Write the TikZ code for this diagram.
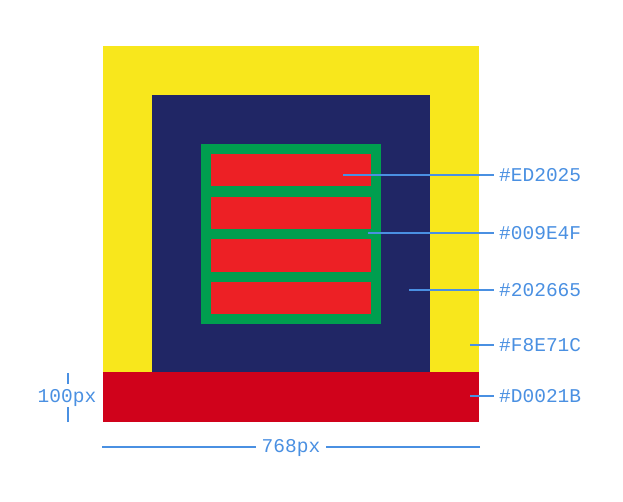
\documentclass[tikz,border=0pt]{standalone}
\usepackage{fontspec}
\setmonofont{Liberation Mono}
\definecolor{cyellow}{HTML}{F8E71C}
\definecolor{cnavy}{HTML}{202665}
\definecolor{cgreen}{HTML}{009E4F}
\definecolor{cred}{HTML}{ED2025}
\definecolor{cdark}{HTML}{D0021B}
\definecolor{cblue}{HTML}{4A90E2}
\begin{document}
\begin{tikzpicture}[x=1pt,y=-1pt,
  lbl/.style={font=\ttfamily\fontsize{19.5}{20}\selectfont, text=cblue, inner xsep=5pt, inner ysep=0pt, text height=13pt, text depth=0pt},
  lead/.style={draw=cblue, line width=2pt}]
\useasboundingbox (0,0) rectangle (623,502);
\fill[white] (0,0) rectangle (623,502);
% shapes
\fill[cyellow] (103,46) rectangle (479,372);
\fill[cnavy] (152,95) rectangle (430,372);
\fill[cgreen] (201,144) rectangle (381,324);
\fill[cred] (211,154) rectangle (371,186);
\fill[cred] (211,197) rectangle (371,229);
\fill[cred] (211,239) rectangle (371,272);
\fill[cred] (211,282) rectangle (371,314);
\fill[cdark] (103,372) rectangle (479,422);
% labels
\node[lbl, anchor=west] (l1) at (494,175) {\#ED2025};
\node[lbl, anchor=west] (l2) at (494,233) {\#009E4F};
\node[lbl, anchor=west] (l3) at (494,290.5) {\#202665};
\node[lbl, anchor=west] (l4) at (494,345) {\#F8E71C};
\node[lbl, anchor=west] (l5) at (494,396) {\#D0021B};
\coordinate (p1) at (343,175);
\coordinate (p2) at (368,233);
\coordinate (p3) at (409,290.5);
\coordinate (p4) at (470,345);
\coordinate (p5) at (470,396);
\draw[lead] (p1) -- (l1.west);
\draw[lead] (p2) -- (l2.west);
\draw[lead] (p3) -- (l3.west);
\draw[lead] (p4) -- (l4.west);
\draw[lead] (p5) -- (l5.west);
% dimensions
\node[lbl, inner xsep=0pt] (h) at (67,396) {100px};
\coordinate (ht) at (68,373);
\coordinate (hb) at (68,422);
\draw[lead] (ht) -- (68,384);
\draw[lead] (hb) -- (68,407);
\node[lbl, inner xsep=6pt] (w) at (291,446) {768px};
\coordinate (wl) at (102,447);
\coordinate (wr) at (480,447);
\draw[lead] (wl) -- (wl -| w.west);
\draw[lead] (wr) -- (wr -| w.east);
\end{tikzpicture}
\end{document}
